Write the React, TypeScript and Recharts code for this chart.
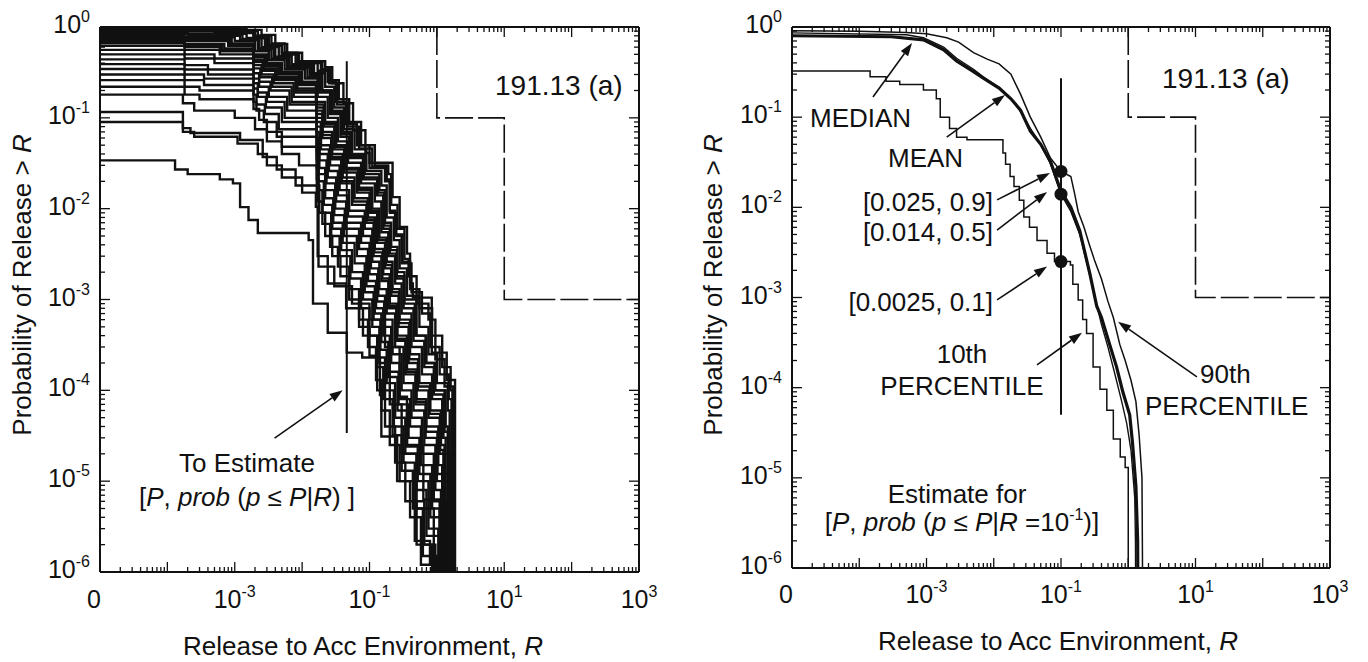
import React from 'react';
import { LineChart, Line, XAxis, YAxis, ReferenceLine, ReferenceDot } from 'recharts';

type Pt = [number, number];

// ---- left panel: individual sample curves, [R, P(release > R)] step points ----
const run01: Pt[] = [[1e-5, 0.95], [1.5e-3, 0.93], [2.5e-3, 0.82], [4e-3, 0.65], [6e-3, 0.5], [9e-3, 0.42], [0.022, 0.36], [0.028, 0.24], [0.041, 0.145], [0.057, 0.073], [0.087, 0.041], [0.1, 0.032], [0.22, 0.0134], [0.28, 0.0063], [0.36, 0.0032], [0.4, 0.0015], [0.44, 0.00105], [0.84, 0.00026], [1.4, 0.00013], [1.86, 1e-7]];
const run02: Pt[] = [[1e-5, 0.93], [1.2e-3, 0.9], [2.2e-3, 0.8], [3.5e-3, 0.66], [5.5e-3, 0.52], [0.01, 0.4], [0.02, 0.34], [0.026, 0.26], [0.035, 0.16], [0.05, 0.09], [0.075, 0.05], [0.12, 0.03], [0.19, 0.024], [0.21, 0.011], [0.26, 0.006], [0.33, 0.0028], [0.38, 0.0018], [0.5, 0.0009], [0.75, 0.0006], [0.95, 0.00022], [1.3, 0.00011], [1.75, 1e-7]];
const run03: Pt[] = [[1e-5, 0.91], [8e-4, 0.88], [1.9e-3, 0.78], [3e-3, 0.62], [5e-3, 0.5], [8e-3, 0.4], [0.017, 0.33], [0.024, 0.25], [0.032, 0.15], [0.045, 0.085], [0.065, 0.05], [0.1, 0.028], [0.17, 0.02], [0.2, 0.009], [0.25, 0.005], [0.3, 0.0025], [0.42, 0.0012], [0.6, 0.0007], [0.8, 0.0003], [1.1, 0.00015], [1.5, 0.00008], [1.65, 1e-7]];
const run04: Pt[] = [[1e-5, 0.89], [5e-4, 0.86], [1.9e-3, 0.75], [2.8e-3, 0.6], [4.5e-3, 0.48], [7e-3, 0.39], [0.015, 0.31], [0.022, 0.22], [0.03, 0.13], [0.042, 0.075], [0.06, 0.045], [0.09, 0.026], [0.15, 0.018], [0.18, 0.008], [0.23, 0.0045], [0.28, 0.0022], [0.36, 0.0011], [0.55, 0.0005], [0.75, 0.00025], [1.0, 0.00012], [1.45, 0.00006], [1.55, 1e-7]];
const run05: Pt[] = [[1e-5, 0.87], [2e-4, 0.84], [1.5e-3, 0.76], [2.5e-3, 0.6], [4e-3, 0.47], [6.5e-3, 0.37], [0.014, 0.3], [0.02, 0.2], [0.028, 0.12], [0.04, 0.07], [0.055, 0.04], [0.085, 0.024], [0.14, 0.016], [0.17, 0.007], [0.21, 0.0038], [0.26, 0.002], [0.33, 0.001], [0.5, 0.0004], [0.7, 0.0002], [0.95, 0.0001], [1.35, 0.00004], [1.45, 1e-7]];
const run06: Pt[] = [[1e-5, 0.84], [2e-4, 0.8], [1.2e-3, 0.72], [2.2e-3, 0.56], [3.5e-3, 0.45], [6e-3, 0.35], [0.012, 0.28], [0.018, 0.19], [0.026, 0.11], [0.037, 0.062], [0.05, 0.036], [0.08, 0.021], [0.13, 0.014], [0.16, 0.006], [0.2, 0.0032], [0.25, 0.0017], [0.32, 0.0008], [0.45, 0.00035], [0.65, 0.00018], [0.9, 0.00009], [1.25, 0.00003], [1.8, 1e-7]];
const run07: Pt[] = [[1e-5, 0.81], [1.8e-4, 0.77], [1e-3, 0.7], [2e-3, 0.54], [3.2e-3, 0.43], [5.5e-3, 0.34], [0.011, 0.27], [0.017, 0.17], [0.024, 0.1], [0.034, 0.055], [0.048, 0.032], [0.075, 0.019], [0.12, 0.012], [0.15, 0.0055], [0.19, 0.003], [0.24, 0.0015], [0.3, 0.0007], [0.42, 0.0003], [0.6, 0.00015], [0.85, 0.00008], [1.2, 0.00003], [1.35, 1e-7]];
const run08: Pt[] = [[1e-5, 0.78], [1.8e-4, 0.74], [9e-4, 0.66], [1.9e-3, 0.5], [3e-3, 0.4], [5e-3, 0.32], [0.01, 0.25], [0.016, 0.15], [0.022, 0.09], [0.032, 0.05], [0.045, 0.028], [0.07, 0.017], [0.11, 0.01], [0.14, 0.0048], [0.18, 0.0026], [0.22, 0.0013], [0.28, 0.0006], [0.4, 0.00025], [0.55, 0.00012], [0.8, 0.00006], [1.15, 0.000025], [1.3, 1e-7]];
const run09: Pt[] = [[1e-5, 0.74], [1.8e-4, 0.7], [8e-4, 0.62], [1.9e-3, 0.47], [2.8e-3, 0.37], [4.5e-3, 0.3], [9e-3, 0.23], [0.0165, 0.13], [0.021, 0.08], [0.03, 0.045], [0.042, 0.025], [0.065, 0.015], [0.1, 0.009], [0.13, 0.0042], [0.17, 0.0022], [0.21, 0.0011], [0.27, 0.0005], [0.38, 0.0002], [0.52, 0.0001], [0.75, 0.00005], [1.1, 0.00002], [1.6, 1e-7]];
const run10: Pt[] = [[1e-5, 0.7], [1.8e-4, 0.65], [7e-4, 0.58], [1.9e-3, 0.44], [2.7e-3, 0.35], [4.2e-3, 0.28], [8.5e-3, 0.21], [0.0165, 0.12], [0.02, 0.07], [0.028, 0.04], [0.04, 0.022], [0.06, 0.013], [0.095, 0.008], [0.12, 0.0036], [0.16, 0.0019], [0.2, 0.0009], [0.26, 0.0004], [0.36, 0.00017], [0.5, 0.00008], [0.7, 0.00004], [1.05, 0.000015], [1.2, 1e-7]];
const run11: Pt[] = [[1e-5, 0.66], [1.8e-4, 0.6], [6e-4, 0.54], [1.9e-3, 0.41], [2.6e-3, 0.33], [4e-3, 0.26], [8e-3, 0.19], [0.0165, 0.1], [0.02, 0.06], [0.027, 0.035], [0.038, 0.019], [0.055, 0.011], [0.09, 0.007], [0.115, 0.003], [0.15, 0.0016], [0.19, 0.0008], [0.25, 0.00035], [0.34, 0.00015], [0.48, 0.00007], [0.68, 0.00003], [1.0, 0.00001], [1.45, 1e-7]];
const run12: Pt[] = [[1e-5, 0.62], [1.8e-4, 0.56], [6e-4, 0.5], [1.9e-3, 0.38], [2.5e-3, 0.3], [3.8e-3, 0.24], [7.5e-3, 0.17], [0.0165, 0.09], [0.019, 0.05], [0.026, 0.03], [0.036, 0.016], [0.05, 0.0095], [0.085, 0.006], [0.11, 0.0026], [0.14, 0.0013], [0.18, 0.0007], [0.24, 0.0003], [0.32, 0.00012], [0.45, 0.00006], [0.65, 0.000025], [0.95, 0.000008], [1.15, 1e-7]];
const run13: Pt[] = [[1e-5, 0.56], [1.8e-4, 0.5], [5e-4, 0.45], [1.9e-3, 0.35], [2.4e-3, 0.28], [3.6e-3, 0.22], [7e-3, 0.15], [0.0165, 0.08], [0.019, 0.045], [0.025, 0.026], [0.034, 0.014], [0.048, 0.0082], [0.08, 0.005], [0.105, 0.0022], [0.135, 0.0011], [0.17, 0.0006], [0.22, 0.00025], [0.3, 0.0001], [0.42, 0.00005], [0.6, 0.00002], [0.9, 0.000006], [1.4, 1e-7]];
const run14: Pt[] = [[1e-5, 0.5], [1.8e-4, 0.45], [5e-4, 0.4], [1.9e-3, 0.31], [2.3e-3, 0.25], [3.4e-3, 0.2], [6.5e-3, 0.14], [0.0165, 0.07], [0.018, 0.04], [0.024, 0.022], [0.032, 0.012], [0.045, 0.007], [0.075, 0.0042], [0.1, 0.0019], [0.13, 0.00095], [0.165, 0.0005], [0.21, 0.0002], [0.28, 0.00008], [0.4, 0.00004], [0.58, 0.000015], [0.85, 0.000005], [1.1, 1e-7]];
const run15: Pt[] = [[1e-5, 0.44], [1.8e-4, 0.38], [4e-4, 0.34], [1.9e-3, 0.27], [2.3e-3, 0.22], [3.2e-3, 0.17], [6e-3, 0.12], [0.0165, 0.06], [0.018, 0.034], [0.023, 0.019], [0.031, 0.01], [0.043, 0.006], [0.07, 0.0036], [0.095, 0.0016], [0.125, 0.0008], [0.16, 0.0004], [0.2, 0.00016], [0.27, 0.00007], [0.38, 0.00003], [0.55, 0.000012], [0.8, 0.000004], [1.3, 1e-7]];
const run16: Pt[] = [[1e-5, 0.39], [1.8e-4, 0.34], [4e-4, 0.3], [1.9e-3, 0.24], [2.2e-3, 0.19], [3e-3, 0.15], [5.5e-3, 0.1], [0.0165, 0.05], [0.018, 0.028], [0.022, 0.016], [0.03, 0.0085], [0.042, 0.005], [0.065, 0.003], [0.09, 0.0014], [0.12, 0.0007], [0.15, 0.00034], [0.19, 0.00014], [0.26, 0.00006], [0.36, 0.000025], [0.52, 0.00001], [0.75, 0.000003], [1.05, 1e-7]];
const run17: Pt[] = [[1e-5, 0.345], [1.8e-4, 0.3], [3.5e-4, 0.27], [1.9e-3, 0.21], [2.2e-3, 0.17], [2.9e-3, 0.13], [5e-3, 0.09], [0.0165, 0.042], [0.0175, 0.024], [0.022, 0.013], [0.029, 0.007], [0.04, 0.0042], [0.06, 0.0025], [0.085, 0.0012], [0.115, 0.0006], [0.145, 0.00028], [0.18, 0.00012], [0.24, 0.00005], [0.34, 0.00002], [0.5, 0.000008], [0.7, 0.0000025], [1.2, 1e-7]];
const run18: Pt[] = [[1e-5, 0.3], [1.8e-4, 0.26], [3.5e-4, 0.23], [1.9e-3, 0.18], [2.1e-3, 0.14], [2.8e-3, 0.11], [4.5e-3, 0.075], [0.0165, 0.035], [0.0175, 0.02], [0.021, 0.011], [0.028, 0.006], [0.038, 0.0035], [0.055, 0.002], [0.08, 0.001], [0.11, 0.0005], [0.14, 0.00023], [0.17, 0.0001], [0.23, 0.00004], [0.32, 0.000016], [0.47, 0.000006], [0.65, 0.000002], [0.95, 1e-7]];
const run19: Pt[] = [[1e-5, 0.26], [1.8e-4, 0.22], [3e-4, 0.2], [1.9e-3, 0.15], [2.1e-3, 0.12], [2.7e-3, 0.09], [4.2e-3, 0.062], [0.0165, 0.028], [0.0175, 0.016], [0.02, 0.009], [0.027, 0.005], [0.036, 0.003], [0.052, 0.0017], [0.075, 0.0008], [0.1, 0.0004], [0.13, 0.00018], [0.16, 0.00008], [0.22, 0.000032], [0.3, 0.000013], [0.44, 0.000005], [0.62, 0.0000015], [1.0, 1e-7]];
const run20: Pt[] = [[1e-5, 0.22], [1.8e-4, 0.18], [3e-4, 0.16], [1.9e-3, 0.125], [2.3e-3, 0.095], [3e-3, 0.07], [5e-3, 0.048], [0.0165, 0.021], [0.0175, 0.012], [0.02, 0.0068], [0.026, 0.0038], [0.034, 0.0023], [0.05, 0.0013], [0.07, 0.0006], [0.095, 0.0003], [0.125, 0.00013], [0.15, 0.00006], [0.2, 0.000025], [0.28, 0.00001], [0.4, 0.000004], [0.58, 0.0000012], [0.9, 1e-7]];
const run21: Pt[] = [[1e-5, 0.18], [1.7e-4, 0.145], [2.5e-4, 0.12], [1e-3, 0.1], [2e-3, 0.075], [3e-3, 0.055], [5e-3, 0.04], [9e-3, 0.03], [0.0165, 0.018], [0.018, 0.009], [0.022, 0.005], [0.028, 0.003], [0.037, 0.0018], [0.05, 0.001], [0.07, 0.0005], [0.1, 0.00024], [0.13, 0.0001], [0.17, 0.00004], [0.24, 0.000016], [0.34, 0.000006], [0.5, 0.000002], [0.85, 1e-7]];
const run22: Pt[] = [[1e-5, 0.116], [1.7e-4, 0.077], [2.2e-4, 0.068], [1.2e-3, 0.057], [2.6e-3, 0.037], [4.2e-3, 0.027], [8e-3, 0.018], [0.0165, 0.0124], [0.0175, 0.0023], [0.03, 0.0014], [0.055, 0.0009], [0.1, 0.0006], [0.17, 0.0003], [0.28, 0.000085], [0.36, 0.000024], [0.63, 0.0000063], [1.1, 1e-7]];
const run23: Pt[] = [[1e-5, 0.09], [1.7e-4, 0.07], [2.5e-4, 0.062], [1.1e-3, 0.052], [2.2e-3, 0.04], [3e-3, 0.03], [5e-3, 0.022], [0.01, 0.015], [0.016, 0.0105], [0.017, 0.003], [0.024, 0.0015], [0.045, 0.0008], [0.08, 0.0004], [0.14, 0.0002], [0.2, 0.00007], [0.3, 0.00002], [0.5, 0.000005], [0.9, 1e-7]];
const run24: Pt[] = [[1e-5, 0.034], [1.3e-4, 0.027], [2e-4, 0.024], [6e-4, 0.021], [9.4e-4, 0.019], [1.2e-3, 0.0104], [1.6e-3, 0.0075], [2.2e-3, 0.0054], [0.0125, 0.0045], [0.0145, 0.0009], [0.024, 0.00043], [0.046, 0.00026], [0.078, 0.00023], [0.143, 0.000089], [0.15, 0.000031], [0.257, 0.00001], [0.47, 0.0000022], [0.79, 0.0000012], [1.1, 1e-7]];
const run25: Pt[] = [[1e-5, 0.92], [1e-3, 0.89], [2e-3, 0.8], [3.2e-3, 0.64], [5e-3, 0.52], [8.5e-3, 0.41], [0.019, 0.34], [0.025, 0.24], [0.033, 0.14], [0.047, 0.08], [0.07, 0.046], [0.11, 0.029], [0.18, 0.021], [0.2, 0.0095], [0.24, 0.0052], [0.31, 0.0026], [0.4, 0.0013], [0.55, 0.0008], [0.85, 0.0004], [1.2, 0.00018], [1.6, 0.0001], [1.7, 1e-7]];
const run26: Pt[] = [[1e-5, 0.85], [2e-4, 0.82], [1.3e-3, 0.74], [2.3e-3, 0.58], [3.8e-3, 0.46], [6.2e-3, 0.36], [0.013, 0.29], [0.019, 0.2], [0.027, 0.115], [0.038, 0.066], [0.052, 0.038], [0.082, 0.022], [0.135, 0.015], [0.165, 0.0065], [0.205, 0.0035], [0.255, 0.0018], [0.33, 0.0009], [0.47, 0.0004], [0.68, 0.0002], [0.92, 0.0001], [1.3, 0.000035], [1.5, 1e-7]];
const run27: Pt[] = [[1e-5, 0.76], [1.8e-4, 0.72], [8.5e-4, 0.64], [1.9e-3, 0.48], [2.9e-3, 0.38], [4.8e-3, 0.31], [9.5e-3, 0.24], [0.0165, 0.14], [0.021, 0.085], [0.031, 0.048], [0.043, 0.027], [0.068, 0.016], [0.105, 0.0095], [0.135, 0.0045], [0.175, 0.0024], [0.215, 0.0012], [0.275, 0.00055], [0.39, 0.00022], [0.53, 0.00011], [0.78, 0.000055], [1.12, 0.000022], [1.25, 1e-7]];
const run28: Pt[] = [[1e-5, 0.68], [1.8e-4, 0.62], [6.5e-4, 0.56], [1.9e-3, 0.42], [2.65e-3, 0.34], [4.1e-3, 0.27], [8.2e-3, 0.2], [0.0165, 0.11], [0.02, 0.065], [0.0275, 0.037], [0.039, 0.02], [0.057, 0.012], [0.092, 0.0075], [0.118, 0.0033], [0.155, 0.0017], [0.195, 0.00085], [0.255, 0.00037], [0.35, 0.00016], [0.49, 0.000075], [0.69, 0.000035], [1.02, 0.000012], [1.5, 1e-7]];

const leftRuns = [run01, run02, run03, run04, run05, run06, run07, run08, run09, run10, run11, run12, run13, run14, run15, run16, run17, run18, run19, run20, run21, run22, run23, run24, run25, run26, run27, run28];

// ---- right panel: summary curves ----
const pct90: Pt[] = [[1e-5, 0.91], [1e-4, 0.9], [5e-4, 0.87], [1e-3, 0.84], [2e-3, 0.76], [3e-3, 0.68], [5e-3, 0.52], [8e-3, 0.44], [0.012, 0.39], [0.018, 0.3], [0.025, 0.18], [0.035, 0.1], [0.05, 0.06], [0.07, 0.035], [0.1, 0.025], [0.14, 0.022], [0.16, 0.014], [0.18, 0.009], [0.22, 0.006], [0.26, 0.004], [0.32, 0.0025], [0.4, 0.0016], [0.5, 0.0009], [0.6, 0.0006], [0.75, 0.0003], [0.9, 0.0002], [1.1, 0.00012], [1.3, 0.00007], [1.45, 0.00003], [1.6, 0.00001], [1.66, 1e-7]];
const meanCurve: Pt[] = [[1e-5, 0.8], [3e-4, 0.78], [9e-4, 0.72], [1.8e-3, 0.56], [2.8e-3, 0.42], [5e-3, 0.32], [7e-3, 0.27], [0.012, 0.21], [0.018, 0.16], [0.025, 0.12], [0.035, 0.07], [0.05, 0.05], [0.07, 0.032], [0.1, 0.015], [0.14, 0.01], [0.19, 0.0055], [0.27, 0.0018], [0.34, 0.0008], [0.4, 0.0006], [0.53, 0.0003], [0.67, 0.00017], [0.83, 0.00009], [1.05, 0.00005], [1.16, 0.000024], [1.3, 0.000008], [1.38, 0.000002], [1.4, 1e-7]];
const median: Pt[] = [[1e-5, 0.86], [5e-4, 0.82], [9e-4, 0.76], [1.8e-3, 0.6], [2.8e-3, 0.45], [5e-3, 0.34], [7e-3, 0.28], [0.012, 0.215], [0.018, 0.16], [0.025, 0.115], [0.035, 0.075], [0.05, 0.05], [0.07, 0.03], [0.1, 0.014], [0.14, 0.009], [0.19, 0.005], [0.25, 0.0022], [0.32, 0.001], [0.4, 0.0005], [0.5, 0.00028], [0.62, 0.00015], [0.8, 0.00007], [0.95, 0.00004], [1.1, 0.00002], [1.25, 0.000006], [1.28, 0.000002], [1.3, 1e-7]];
const pct10: Pt[] = [[1e-5, 0.325], [1.45e-4, 0.28], [2.5e-4, 0.25], [4e-4, 0.23], [9e-4, 0.2], [1.4e-3, 0.16], [1.6e-3, 0.1], [2.2e-3, 0.075], [2.8e-3, 0.06], [4e-3, 0.056], [0.0137, 0.04], [0.015, 0.03], [0.0175, 0.022], [0.02, 0.017], [0.024, 0.012], [0.028, 0.0078], [0.034, 0.006], [0.044, 0.0043], [0.062, 0.0031], [0.08, 0.0025], [0.138, 0.0023], [0.15, 0.0014], [0.18, 0.00094], [0.21, 0.00057], [0.24, 0.0004], [0.3, 0.00017], [0.38, 0.000096], [0.48, 0.000056], [0.6, 0.000027], [0.76, 0.000017], [0.9, 0.000013], [1.0, 1e-7]];

// regulatory limit (dashed)
const epaLimit: Pt[] = [[1, 1], [1, 0.1], [10, 0.1], [10, 0.001], [1000, 0.001]];

// estimates at R = 0.1: [P, quantile]
const estimates: Pt[] = [[0.025, 0.9], [0.014, 0.5], [0.0025, 0.1]];

// axes
const xDecades = [-5, -4, -3, -2, -1, 0, 1, 2, 3];
const yDecades = [-6, -5, -4, -3, -2, -1, 0];
const minorSteps = [2, 3, 4, 5, 6, 7, 8, 9];
const xLabelExps = [-5, -3, -1, 1, 3];
const yLabelExps = [0, -1, -2, -3, -4, -5, -6];

const ink = '#111';
const font = '"Liberation Sans", Arial, Helvetica, sans-serif';

const logTicks = (decs: number[]) => {
  const out: number[] = [];
  decs.forEach((d, i) => {
    out.push(Number(`1e${d}`));
    if (i < decs.length - 1) minorSteps.forEach((m) => out.push(Number(`${m}e${d}`)));
  });
  return out;
};
const xTicks = logTicks(xDecades);
const yTicks = logTicks(yDecades);

const rows = (pts: Pt[]) => pts.map(([r, p]) => ({ r, p }));

type Side = 'bottom' | 'top' | 'left' | 'right';

const makeTick = (side: Side, labels: number[] | null, gap: number) => (props: any) => {
  const { x, y, payload } = props;
  const e = Math.log10(payload.value);
  const exp = Math.round(e);
  const major = Math.abs(e - exp) < 1e-6;
  const len = major ? 10 : 5;
  let x2 = x;
  let y2 = y;
  if (side === 'bottom') y2 = y - len;
  if (side === 'top') y2 = y + len;
  if (side === 'left') x2 = x + len;
  if (side === 'right') x2 = x - len;
  const show = major && labels && labels.includes(exp);
  return (
    <g>
      <line x1={x} y1={y} x2={x2} y2={y2} stroke={ink} strokeWidth={1.3} />
      {show && side === 'bottom' && (
        <text x={exp === -5 ? x - 6 : x} y={y + gap} textAnchor="middle" fontFamily={font} fontSize={25} fill={ink}>
          {exp === -5 ? '0' : (
            <>
              10<tspan dy={-11} fontSize={16}>{exp}</tspan>
            </>
          )}
        </text>
      )}
      {show && side === 'left' && (
        <text x={x - gap} y={y + 6} textAnchor="end" fontFamily={font} fontSize={25} fill={ink}>
          10<tspan dy={-11} fontSize={16}>{exp}</tspan>
        </text>
      )}
    </g>
  );
};

const arrowShape = (p: any) => {
  const { x1, y1, x2, y2 } = p;
  const a = Math.atan2(y2 - y1, x2 - x1);
  const L = 13;
  const W = 4.5;
  const bx = x2 - L * Math.cos(a);
  const by = y2 - L * Math.sin(a);
  const pts = `${x2},${y2} ${bx - W * Math.sin(a)},${by + W * Math.cos(a)} ${bx + W * Math.sin(a)},${by - W * Math.cos(a)}`;
  return (
    <g>
      <line x1={x1} y1={y1} x2={bx} y2={by} stroke={ink} strokeWidth={1.6} />
      <polygon points={pts} fill={ink} />
    </g>
  );
};

// axis boxes must be at least 1px or recharts skips them
const axes = (labelGap: number) => [
  <XAxis key="xb" dataKey="r" type="number" scale="log" domain={[1e-5, 1e3]} allowDataOverflow ticks={xTicks} interval={0}
    height={1} tickSize={0} tickMargin={0} tickLine={false} axisLine={{ stroke: ink, strokeWidth: 2 }} tick={makeTick('bottom', xLabelExps, labelGap)} />,
  <XAxis key="xt" xAxisId="t" orientation="top" dataKey="r" type="number" scale="log" domain={[1e-5, 1e3]} allowDataOverflow ticks={xTicks} interval={0}
    height={1} tickSize={0} tickMargin={0} tickLine={false} axisLine={{ stroke: ink, strokeWidth: 2 }} tick={makeTick('top', null, 0)} />,
  <YAxis key="yl" type="number" scale="log" domain={[1e-6, 1]} allowDataOverflow ticks={yTicks} interval={0}
    width={1} tickSize={0} tickMargin={0} tickLine={false} axisLine={{ stroke: ink, strokeWidth: 2 }} tick={makeTick('left', yLabelExps, 10)} />,
  <YAxis key="yr" yAxisId="r" orientation="right" type="number" scale="log" domain={[1e-6, 1]} allowDataOverflow ticks={yTicks} interval={0}
    width={1} tickSize={0} tickMargin={0} tickLine={false} axisLine={{ stroke: ink, strokeWidth: 2 }} tick={makeTick('right', null, 0)} />,
];

const epaLine = (
  <Line key="epa" xAxisId="t" yAxisId="r" data={rows(epaLimit)} dataKey="p" type="linear" stroke={ink} strokeWidth={1.6}
    strokeDasharray="28 5" dot={false} activeDot={false} isAnimationActive={false} />
);

function LeftPanel() {
  return (
    <LineChart width={684} height={662} margin={{ top: 26, right: 44, bottom: 89, left: 99 }}>
      {axes(36)}
      {epaLine}
      {leftRuns.map((run, i) => (
        <Line key={i} data={rows(run)} dataKey="p" type="stepAfter" stroke={ink} strokeWidth={2.4}
          dot={false} activeDot={false} isAnimationActive={false} />
      ))}
      <ReferenceLine segment={[{ x: 0.046, y: 0.42 }, { x: 0.046, y: 3.4e-5 }]} stroke={ink} strokeWidth={2} />
      <ReferenceLine segment={[{ x: 3.9e-3, y: 2.98e-5 }, { x: 0.04, y: 1e-4 }]} shape={arrowShape} />
    </LineChart>
  );
}

function RightPanel() {
  return (
    <LineChart width={684} height={662} margin={{ top: 26, right: 37, bottom: 93, left: 107 }}>
      {axes(35)}
      {epaLine}
      <Line data={rows(pct90)} dataKey="p" type="linear" stroke={ink} strokeWidth={1.5} dot={false} activeDot={false} isAnimationActive={false} />
      <Line data={rows(median)} dataKey="p" type="linear" stroke={ink} strokeWidth={1.4} dot={false} activeDot={false} isAnimationActive={false} />
      <Line data={rows(meanCurve)} dataKey="p" type="linear" stroke={ink} strokeWidth={3.2} dot={false} activeDot={false} isAnimationActive={false} />
      <Line data={rows(pct10)} dataKey="p" type="stepAfter" stroke={ink} strokeWidth={1.5} dot={false} activeDot={false} isAnimationActive={false} />
      <ReferenceLine segment={[{ x: 0.1, y: 0.27 }, { x: 0.1, y: 5e-5 }]} stroke={ink} strokeWidth={2} />
      {estimates.map(([p], i) => (
        <ReferenceDot key={i} x={0.1} y={p} r={6.5} fill={ink} stroke="none" />
      ))}
      <ReferenceLine segment={[{ x: 1.6e-4, y: 0.167 }, { x: 6.1e-4, y: 0.665 }]} shape={arrowShape} />
      <ReferenceLine segment={[{ x: 2e-3, y: 0.06 }, { x: 0.0147, y: 0.176 }]} shape={arrowShape} />
      <ReferenceLine segment={[{ x: 0.0112, y: 0.0121 }, { x: 0.0686, y: 0.024 }]} shape={arrowShape} />
      <ReferenceLine segment={[{ x: 0.0112, y: 0.0056 }, { x: 0.062, y: 0.0148 }]} shape={arrowShape} />
      <ReferenceLine segment={[{ x: 0.0112, y: 9.4e-4 }, { x: 0.062, y: 0.0022 }]} shape={arrowShape} />
      <ReferenceLine segment={[{ x: 0.044, y: 1.79e-4 }, { x: 0.205, y: 4.07e-4 }]} shape={arrowShape} />
      <ReferenceLine segment={[{ x: 10.5, y: 1.32e-4 }, { x: 0.705, y: 5.4e-4 }]} shape={arrowShape} />
    </LineChart>
  );
}

const I = ({ children }: { children: React.ReactNode }) => <tspan fontStyle="italic">{children}</tspan>;

function Annotations() {
  const t = { fontFamily: font, fontSize: 26, fill: ink } as const;
  return (
    <svg width={1368} height={662} style={{ position: 'absolute', left: 0, top: 0, pointerEvents: 'none' }}>
      {/* left panel */}
      <text {...t} x={31} y={285} textAnchor="middle" transform="rotate(-90 31 285)">
        Probability of Release {'>'} <I>R</I>
      </text>
      <text {...t} x={363} y={655} textAnchor="middle">
        Release to Acc Environment, <I>R</I>
      </text>
      <text {...t} fontSize={28} x={495} y={95}>191.13 (a)</text>
      <text {...t} x={247} y={472} textAnchor="middle">To Estimate</text>
      <text {...t} x={247} y={506} textAnchor="middle">
        [<I>P</I>, <I>prob</I> (<I>p</I> ≤ <I>P</I>|<I>R</I>) ]
      </text>

      {/* right panel */}
      <text {...t} x={722} y={285} textAnchor="middle" transform="rotate(-90 722 285)">
        Probability of Release {'>'} <I>R</I>
      </text>
      <text {...t} x={1058} y={650} textAnchor="middle">
        Release to Acc Environment, <I>R</I>
      </text>
      <text {...t} fontSize={28} x={1162} y={88}>191.13 (a)</text>
      <text {...t} x={810} y={127}>MEDIAN</text>
      <text {...t} x={888} y={167}>MEAN</text>
      <text {...t} x={993} y={211} textAnchor="end">[0.025, 0.9]</text>
      <text {...t} x={993} y={241} textAnchor="end">[0.014, 0.5]</text>
      <text {...t} x={993} y={311} textAnchor="end">[0.0025, 0.1]</text>
      <text {...t} x={962} y={363} textAnchor="middle">10th</text>
      <text {...t} x={962} y={395} textAnchor="middle">PERCENTILE</text>
      <text {...t} x={1200} y={383}>90th</text>
      <text {...t} x={1145} y={415}>PERCENTILE</text>
      <text {...t} x={957} y={503} textAnchor="middle">Estimate for</text>
      <text {...t} x={962} y={531} textAnchor="middle">
        [<I>P</I>, <I>prob</I> (<I>p</I> ≤ <I>P</I>|<I>R</I> =10<tspan dy={-11} fontSize={16}>-1</tspan><tspan dy={11}>)]</tspan>
      </text>
    </svg>
  );
}

export default function App() {
  return (
    <div style={{ position: 'absolute', left: 0, top: 0, width: 1368, height: 662, background: '#fff', overflow: 'hidden' }}>
      <div style={{ position: 'absolute', left: 0, top: 0 }}>
        <LeftPanel />
      </div>
      <div style={{ position: 'absolute', left: 684, top: 0 }}>
        <RightPanel />
      </div>
      <Annotations />
    </div>
  );
}
